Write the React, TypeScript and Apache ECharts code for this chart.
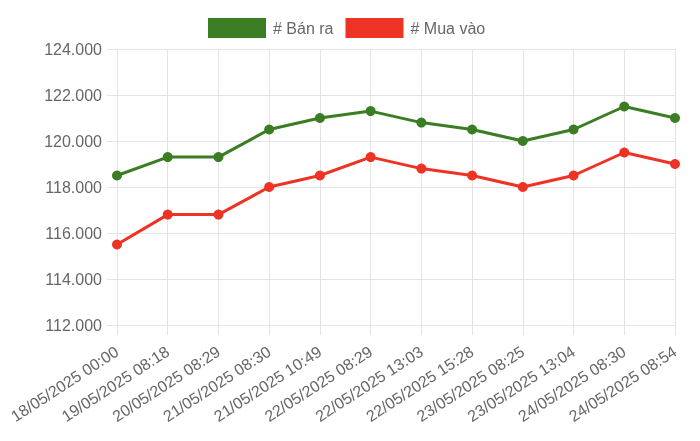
import React, { useEffect, useRef } from "react";
import * as echarts from "echarts";

const categories = [
  "18/05/2025 00:00",
  "19/05/2025 08:18",
  "20/05/2025 08:29",
  "21/05/2025 08:30",
  "21/05/2025 10:49",
  "22/05/2025 08:29",
  "22/05/2025 13:03",
  "22/05/2025 15:28",
  "23/05/2025 08:25",
  "23/05/2025 13:04",
  "24/05/2025 08:30",
  "24/05/2025 08:54",
];
const banRa = [118500, 119300, 119300, 120500, 121000, 121300, 120800, 120500, 120000, 120500, 121500, 121000];
const muaVao = [115500, 116800, 116800, 118000, 118500, 119300, 118800, 118500, 118000, 118500, 119500, 119000];

const fmt = (v: number) => String(v).replace(/\B(?=(\d{3})+(?!\d))/g, ".");

const FONT = "'Liberation Sans', Arial, Helvetica, sans-serif";
const GREEN = "#3a7d22";
const RED = "#ee3224";
const GRID = "#e4e4e4";

export default function App() {
  const ref = useRef<HTMLDivElement>(null);
  useEffect(() => {
    if (!ref.current) return;
    const chart = echarts.init(ref.current, null, { renderer: "svg" });
    chart.setOption({
      animation: false,
      textStyle: { fontFamily: FONT },
      legend: {
        top: 13,
        left: 203,
        itemWidth: 58,
        itemHeight: 20,
        itemGap: 12,
        icon: "rect",
        textStyle: { fontSize: 16, color: "#666", fontFamily: FONT, padding: [0, 0, 0, 2] },
        data: ["# Bán ra", "# Mua vào"],
      },
      grid: {
        left: 117,
        right: 25,
        top: 49,
        bottom: 116,
        containLabel: false,
        outerBoundsMode: "none",
      },
      xAxis: {
        type: "category",
        data: categories,
        boundaryGap: false,
        axisLine: { show: true, lineStyle: { color: GRID, width: 1 } },
        axisTick: { show: true, length: 10, lineStyle: { color: GRID } },
        splitLine: { show: true, lineStyle: { color: GRID, width: 1 } },
        axisLabel: {
          rotate: 33,
          margin: 25,
          fontSize: 16,
          color: "#666",
          fontFamily: FONT,
          interval: 0,
        },
      },
      yAxis: {
        type: "value",
        min: 112000,
        max: 124000,
        interval: 2000,
        axisLine: { show: true, lineStyle: { color: GRID, width: 1 } },
        axisTick: { show: true, length: 10, lineStyle: { color: GRID } },
        splitLine: { show: true, lineStyle: { color: GRID, width: 1 } },
        axisLabel: {
          margin: 15,
          fontSize: 16,
          color: "#666",
          fontFamily: FONT,
          formatter: (v: number) => fmt(v),
        },
      },
      series: [
        {
          name: "# Bán ra",
          type: "line",
          data: banRa,
          symbol: "circle",
          symbolSize: 10,
          showAllSymbol: true,
          lineStyle: { color: GREEN, width: 3 },
          itemStyle: { color: GREEN },
        },
        {
          name: "# Mua vào",
          type: "line",
          data: muaVao,
          symbol: "circle",
          symbolSize: 10,
          showAllSymbol: true,
          lineStyle: { color: RED, width: 3 },
          itemStyle: { color: RED },
        },
      ],
    });
    return () => chart.dispose();
  }, []);
  return (
    <div
      ref={ref}
      style={{ position: "fixed", left: 0, top: 0, width: 700, height: 441 }}
    />
  );
}
